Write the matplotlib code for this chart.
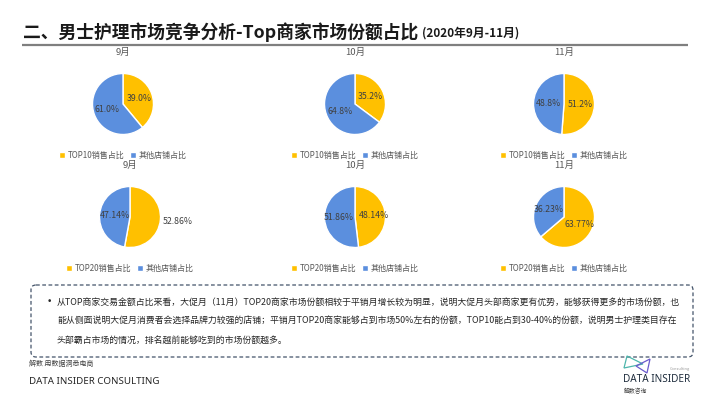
import matplotlib
matplotlib.use('Agg')
import matplotlib.pyplot as plt
import numpy as np
from matplotlib.patches import FancyBboxPatch, Polygon

plt.rcParams['font.family'] = ['Noto Sans CJK SC', 'DejaVu Sans']

months = ['9月', '10月', '11月']
top10_share = [39.0, 35.2, 51.2]
top10_other = [61.0, 64.8, 48.8]
top20_share = [52.86, 48.14, 63.77]
top20_other = [47.14, 51.86, 36.23]
top10_labels = ['TOP10销售占比', '其他店铺占比']
top20_labels = ['TOP20销售占比', '其他店铺占比']

title = '二、男士护理市场竞争分析-Top商家市场份额占比'
subtitle = '(2020年9月-11月)'
note_lines = [
    '从TOP商家交易金额占比来看，大促月（11月）TOP20商家市场份额相较于平销月增长较为明显，说明大促月头部商家更有优势，能够获得更多的市场份额，也',
    '能从侧面说明大促月消费者会选择品牌力较强的店铺；平销月TOP20商家能够占到市场50%左右的份额，TOP10能占到30-40%的份额，说明男士护理类目存在',
    '头部霸占市场的情况，排名越前能够吃到的市场份额越多。',
]

YELLOW = '#FFC000'
BLUE = '#5B8FDE'
GRAY = '#595959'

W, H = 710, 399
fig = plt.figure(figsize=(W / 100, H / 100), dpi=100)

# background axes in pixel coords
bg = fig.add_axes([0, 0, 1, 1])
bg.set_xlim(0, W)
bg.set_ylim(H, 0)
bg.axis('off')

bg.text(23, 32, title, fontsize=12.8, fontweight='bold', color='#1a1a1a', va='center')
bg.text(422, 33, subtitle, fontsize=8.5, fontweight='bold', color='#1a1a1a', va='center')
bg.plot([22, 688], [45, 45], color='#7F7F7F', lw=1.6, solid_capstyle='butt')

# pie layout (pixels)
R = 30.5
top_cx = [123, 355, 564]
bot_cx = [130, 355, 564]
top_cy, bot_cy = 104, 217
top_dist = [[0.55, 0.55], [0.55, 0.55], [0.52, 0.52]]
bot_dist = [[1.57, 0.5], [0.62, 0.55], [0.55, 0.55]]


def draw_pie(cx, cy, values, labels, month, fmt, dists):
    ax = fig.add_axes([(cx - R) / W, 1 - (cy + R) / H, 2 * R / W, 2 * R / H])
    wedges, _ = ax.pie(values, colors=[YELLOW, BLUE], startangle=90, counterclock=False,
                       radius=1, wedgeprops=dict(edgecolor='white', linewidth=1.0))
    ax.set_xlim(-1, 1)
    ax.set_ylim(-1, 1)
    ax.axis('off')
    for w, v, d in zip(wedges, values, dists):
        ang = np.deg2rad((w.theta1 + w.theta2) / 2)
        ax.text(d * np.cos(ang), d * np.sin(ang), fmt.format(v), fontsize=6.3,
                color='#404040', ha='center', va='center', clip_on=False)
    bg.text(cx, cy - 52, month, fontsize=6.8, color=GRAY, ha='center', va='center')
    ax.legend(wedges, labels, ncol=2, loc='center', bbox_to_anchor=(0.5, -0.34),
              frameon=False, fontsize=5.8, labelcolor=GRAY, handlelength=0.7,
              handleheight=0.7, handletextpad=0.35, columnspacing=0.7,
              borderaxespad=0, borderpad=0)


for i, m in enumerate(months):
    draw_pie(top_cx[i], top_cy, [top10_share[i], top10_other[i]], top10_labels, m,
             '{:.1f}%', top_dist[i])
    draw_pie(bot_cx[i], bot_cy, [top20_share[i], top20_other[i]], top20_labels, m,
             '{:.2f}%', bot_dist[i])

# note box
box = FancyBboxPatch((31, 285), 662, 72, boxstyle='round,pad=0,rounding_size=5',
                     fill=False, edgecolor='#44546A', lw=0.9, linestyle=(0, (3, 2)))
bg.add_patch(box)
bg.text(47, 302, '•', fontsize=6.4, color='#262626', va='center', family='DejaVu Sans')
for k, line in enumerate(note_lines):
    bg.text(57, 302 + k * 19, line, fontsize=6.42, color='#262626', va='center')

# footer
bg.text(29, 364, '解数 用数据洞悉电商', fontsize=5, color='#404040', va='center')
bg.text(29, 382, 'DATA INSIDER CONSULTING', fontsize=7, color='#262626', va='center',
        family='Noto Sans')

# logo
bg.add_patch(Polygon([[624, 368], [627, 356], [643, 364]], closed=True, fill=False,
                     edgecolor='#4DB6AC', lw=0.9))
bg.add_patch(Polygon([[636, 366], [650, 359], [647, 373]], closed=True, fill=False,
                     edgecolor='#6A5ACD', lw=0.9))
bg.text(690, 369, 'Consulting', fontsize=2.8, color='#999999', ha='right', va='center')
bg.text(657, 379, 'DATA INSIDER', fontsize=7.2, fontweight='bold', color='#1F2D3D',
        ha='center', va='center', family='Noto Sans')
bg.text(624, 391, '解数咨询', fontsize=4.2, color='#404040', va='center')

fig.savefig('out.png', dpi=100)
